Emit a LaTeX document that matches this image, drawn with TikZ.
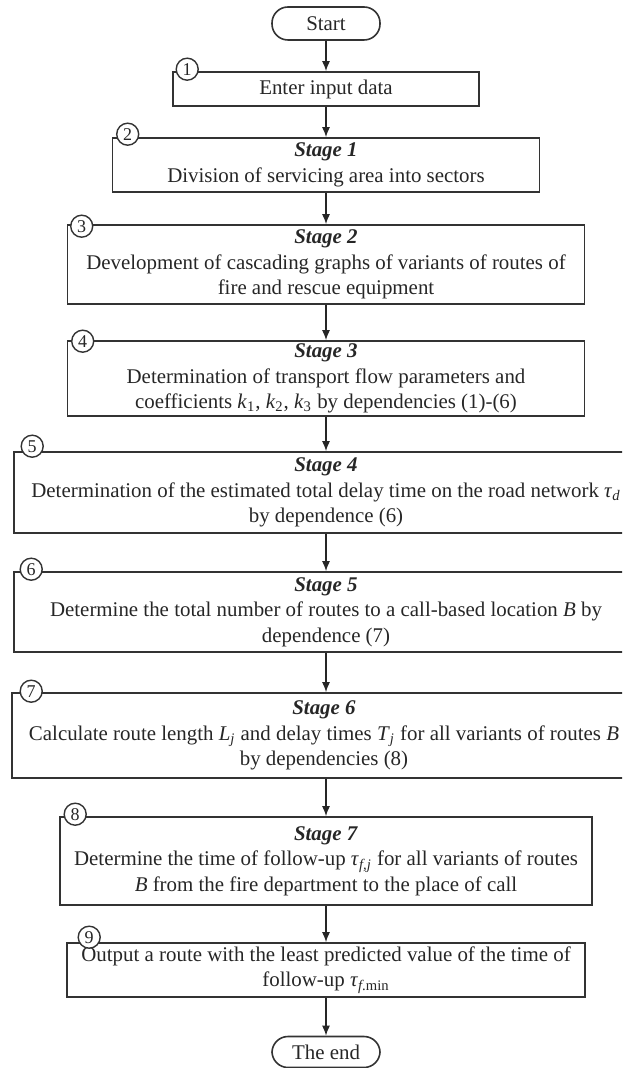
\documentclass[tikz,border=0pt]{standalone}
\usepackage{fontspec}
\setmainfont{Liberation Serif}
\usetikzlibrary{arrows.meta, positioning}
\newcommand{\vsub}[2]{\textit{#1}\textsubscript{#2}}
\newcommand{\stagehead}[1]{\textbf{\textit{Stage #1}}}

\begin{document}
\begin{tikzpicture}[x=0.5pt, y=-0.5pt,
  every node/.style={font=\fontsize{10.45}{12.8}\selectfont, align=center, inner sep=0pt, text=black!85},
  box/.style={draw=black!80, line width=0.8pt, rectangle},
  term/.style={draw=black!80, line width=0.8pt, rectangle, rounded corners=8pt, minimum width=54pt},
  numcirc/.style={draw=black!80, line width=0.7pt, circle, fill=white, minimum size=11pt, font=\fontsize{9}{9}\selectfont},
  arr/.style={draw=black!85, line width=0.7pt, -{Latex[length=5pt, width=4pt]}}]
\useasboundingbox (0,0) rectangle (622,1068);
\clip (0,0) rectangle (622,1068);

% terminals and blocks
\node[term, minimum height=16.5pt] (start) at (326,23.5) {Start};
\node[box, minimum width=153pt, minimum height=17pt] (b1) at (326,89) {Enter input data};
\node[box, minimum width=213.5pt, minimum height=27pt] (b2) at (326,165)
  {\stagehead{1}\\ Division of servicing area into sectors};
\node[box, minimum width=258.5pt, minimum height=39.5pt] (b3) at (326,264.5)
  {\stagehead{2}\\ Development of cascading graphs of variants of routes of\\ fire and rescue equipment};
\node[box, minimum width=258.5pt, minimum height=37.5pt] (b4) at (326,378.5)
  {\stagehead{3}\\ Determination of transport flow parameters and\\ coefficients \vsub{k}{1}, \vsub{k}{2}, \vsub{k}{3} by dependencies (1)-(6)};
\node[box, minimum width=312pt, minimum height=40.5pt] (b5) at (326,492.5)
  {\stagehead{4}\\ Determination of the estimated total delay time on the road network \vsub{τ}{\textit{d}}\\ by dependence (6)};
\node[box, minimum width=312pt, minimum height=40pt] (b6) at (326,612)
  {\stagehead{5}\\ Determine the total number of routes to a call-based location \textit{B} by\\ dependence (7)};
\node[box, minimum width=312pt, minimum height=42.5pt] (b7) at (324,735.5)
  {\stagehead{6}\\ Calculate route length \vsub{L}{\textit{j}} and delay times \vsub{T}{\textit{j}} for all variants of routes \textit{B}\\ by dependencies (8)};
\node[box, minimum width=266pt, minimum height=44pt] (b8) at (326,861)
  {\stagehead{7}\\ Determine the time of follow-up \vsub{τ}{\textit{f,j}} for all variants of routes\\ \textit{B} from the fire department to the place of call};
\node[box, minimum width=259pt, minimum height=27pt] (b9) at (326,970)
  {Output a route with the least predicted value of the time of\\ follow-up \vsub{τ}{\textit{f}.min}};
\node[term, minimum height=15.5pt] (end) at (326,1052) {The end};

% step numbers
\node[numcirc] (n1) at ([xshift=7.5pt, yshift=1pt]b1.north west) {1};
\node[numcirc] (n2) at ([xshift=8pt, yshift=1.5pt]b2.north west) {2};
\node[numcirc] (n3) at ([xshift=7.5pt, yshift=-1pt]b3.north west) {3};
\node[numcirc] (n4) at ([xshift=8pt, yshift=-0.5pt]b4.north west) {4};
\node[numcirc] (n5) at ([xshift=9.5pt, yshift=2.5pt]b5.north west) {5};
\node[numcirc] (n6) at ([xshift=9pt, yshift=1pt]b6.north west) {6};
\node[numcirc] (n7) at ([xshift=10pt, yshift=0.5pt]b7.north west) {7};
\node[numcirc] (n8) at ([xshift=8pt, yshift=1pt]b8.north west) {8};
\node[numcirc] (n9) at ([xshift=11.5pt, yshift=2.5pt]b9.north west) {9};

% flow
\draw[arr] (start) -- (b1);
\draw[arr] (b1) -- (b2);
\draw[arr] (b2) -- (b3);
\draw[arr] (b3) -- (b4);
\draw[arr] (b4) -- (b5);
\draw[arr] (b5) -- (b6);
\draw[arr] (b6) -- (b6 |- b7.north);
\draw[arr] (b7.south -| b8) -- (b8);
\draw[arr] (b8) -- (b9);
\draw[arr] (b9) -- (end);
\end{tikzpicture}
\end{document}
